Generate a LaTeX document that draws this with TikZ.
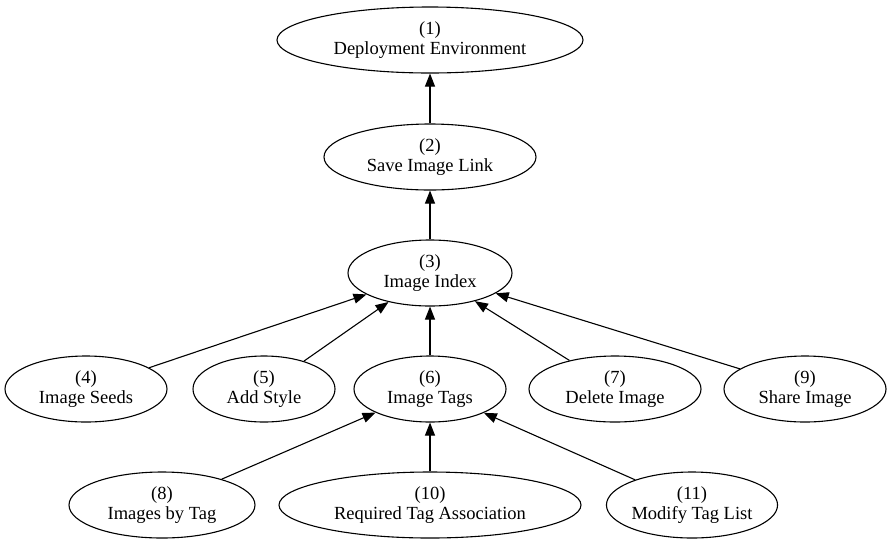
\documentclass[tikz,border=0pt]{standalone}
\usepackage{fontspec}
\setmainfont{Liberation Serif}
\usetikzlibrary{shapes.geometric,arrows.meta}

\begin{document}
\begin{tikzpicture}[x=1pt,y=-1pt,
		stage/.style={draw, ellipse, line width=1.1pt, inner sep=0pt,
			minimum height=66pt, align=center,
			font=\fontsize{18.5}{20}\selectfont},
		dep/.style={line width=1.1pt, -{Triangle[length=13pt,width=10pt]}}]
	\useasboundingbox (0,0) rectangle (893,542);

	% top chain
	\node[stage, minimum width=306pt] (env)   at (430,40)  {(1)\\Deployment Environment};
	\node[stage, minimum width=212pt] (save)  at (430,157) {(2)\\Save Image Link};
	\node[stage, minimum width=164pt] (index) at (430,273) {(3)\\Image Index};

	% middle row
	\node[stage, minimum width=162pt] (seeds) at (86,389)  {(4)\\Image Seeds};
	\node[stage, minimum width=142pt] (style) at (264,389) {(5)\\Add Style};
	\node[stage, minimum width=152pt] (tags)  at (430,389) {(6)\\Image Tags};
	\node[stage, minimum width=172pt] (del)   at (615,389) {(7)\\Delete Image};
	\node[stage, minimum width=162pt] (share) at (805,389) {(9)\\Share Image};

	% bottom row
	\node[stage, minimum width=186pt] (bytag)  at (162,505) {(8)\\Images by Tag};
	\node[stage, minimum width=302pt] (reqtag) at (430,505) {(10)\\Required Tag Association};
	\node[stage, minimum width=170pt] (modtag) at (692,505) {(11)\\Modify Tag List};

	% dependencies
	\draw[dep] (save) -- (env);
	\draw[dep] (index) -- (save);
	\draw[dep] (seeds) -- (index);
	\draw[dep] (style) -- (index);
	\draw[dep] (tags) -- (index);
	\draw[dep] (del) -- (index);
	\draw[dep] (share) -- (index);
	\draw[dep] (bytag) -- (tags);
	\draw[dep] (reqtag) -- (tags);
	\draw[dep] (modtag) -- (tags);
\end{tikzpicture}
\end{document}
